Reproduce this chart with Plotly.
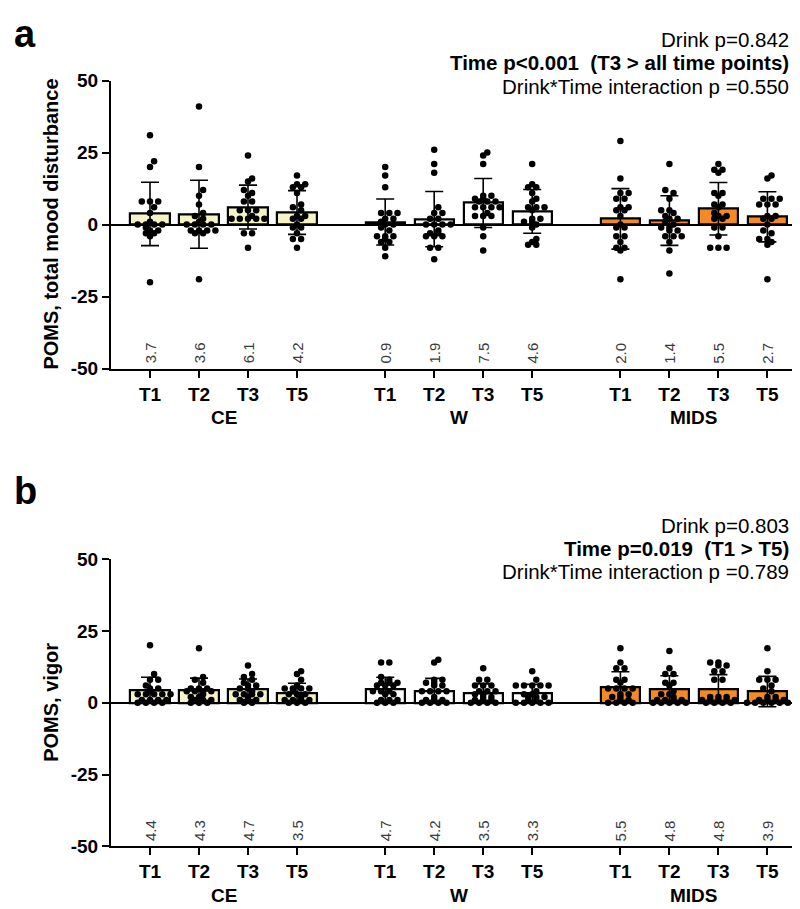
import plotly.graph_objects as go

# ---------------- data ----------------
groups = ["CE", "W", "MIDS"]
time_labels = ["T1", "T2", "T3", "T5"] * 3
y_tick_vals = [-50, -25, 0, 25, 50]
y_tick_text = ["-50", "-25", "0", "25", "50"]

# Panel a: POMS total mood disturbance
tmd_means = [3.7, 3.6, 6.1, 4.2, 0.9, 1.9, 7.5, 4.6, 2.0, 1.4, 5.5, 2.7]
tmd_sd = [11.0, 11.8, 7.6, 7.6, 8.0, 9.6, 8.5, 7.6, 10.5, 8.6, 9.1, 8.7]
tmd_ce_t1 = [31, 22, 20, 8, 8, 8, 6, 4, 1, 0, 0, 0, 0, -1, -2, -3, -3, -2, -4, -20]
tmd_ce_t2 = [41, 20, 12, 10, 7, 4, 3, 2, 1, 0, 0, 0, 0, -2, -2, -2, -2, -3, -3, -19]
tmd_ce_t3 = [24, 16, 15, 12, 11, 10, 8, 8, 5, 5, 5, 3, 2, 2, 2, 2, 2, -3, -3, -8]
tmd_ce_t5 = [17, 14, 14, 13, 13, 11, 7, 6, 5, 3, 3, 2, 2, 0, -1, -1, -3, -5, -5, -8]
tmd_w_t1 = [20, 17, 13, 4, 4, 4, 2, 2, 1, 0, 0, -1, -2, -4, -4, -4, -5, -6, -6, -8, -11]
tmd_w_t2 = [26, 21, 18, 6, 4, 4, 2, 2, 0, 0, 0, 0, -2, -3, -3, -4, -4, -4, -8, -8, -12]
tmd_w_t3 = [25, 24, 21, 10, 10, 9, 9, 8, 8, 8, 6, 6, 6, 6, 4, 3, 3, 3, -1, -4, -9]
tmd_w_t5 = [21, 14, 13, 13, 11, 9, 8, 6, 6, 6, 5, 2, 2, 1, 1, 0, -1, -5, -6, -7, -7]
tmd_mids_t1 = [29, 16, 11, 11, 9, 9, 6, 6, 5, 5, 3, 0, -1, -1, -4, -4, -6, -8, -8, -9, -19]
tmd_mids_t2 = [21, 12, 11, 9, 5, 5, 4, 3, 2, 2, 1, 0, -1, -1, -2, -2, -4, -4, -4, -6, -9, -17]
tmd_mids_t3 = [21, 19, 19, 18, 11, 11, 10, 7, 7, 6, 4, 3, 3, 2, 2, -1, -1, -4, -8, -8, -8]
tmd_mids_t5 = [17, 16, 9, 9, 9, 7, 7, 7, 3, 3, 2, 2, 0, -2, -3, -5, -5, -6, -7, -19]

# Panel b: POMS vigor
vig_means = [4.4, 4.3, 4.7, 3.5, 4.7, 4.2, 3.5, 3.3, 5.5, 4.8, 4.8, 3.9]
vig_sd = [4.5, 4.3, 3.6, 3.3, 4.2, 4.3, 3.1, 3.1, 5.3, 4.6, 5.0, 5.3]
vig_ce_t1 = [20, 10, 8, 8, 5, 5, 6, 3, 3, 3, 3, 3, 4, 1, 1, 1, 1, 0, 0, 0, 0]
vig_ce_t2 = [19, 9, 8, 7, 5, 5, 5, 4, 4, 4, 4, 3, 2, 2, 1, 1, 1, 0, 0, 0]
vig_ce_t3 = [13, 10, 9, 8, 7, 6, 6, 5, 5, 4, 3, 3, 3, 3, 2, 1, 1, 1, 0, 0]
vig_ce_t5 = [11, 10, 8, 6, 5, 5, 5, 5, 4, 3, 3, 3, 2, 1, 1, 1, 1, 0, 0, 0]
vig_w_t1 = [14, 14, 9, 8, 7, 7, 7, 6, 6, 6, 4, 4, 4, 3, 3, 1, 1, 1, 0, 0, 0]
vig_w_t2 = [15, 14, 8, 8, 7, 7, 6, 6, 4, 4, 4, 4, 2, 1, 1, 1, 0, 0, 0, 0]
vig_w_t3 = [12, 8, 8, 6, 6, 6, 4, 4, 4, 3, 3, 2, 2, 1, 1, 1, 0, 0, 0, 0]
vig_w_t5 = [11, 8, 6, 6, 6, 6, 6, 4, 3, 3, 2, 2, 2, 1, 1, 0, 0, 0, 0, 0]
vig_mids_t1 = [19, 14, 12, 12, 8, 8, 7, 5, 5, 5, 5, 3, 3, 2, 2, 1, 1, 0, 0, 0, 0]
vig_mids_t2 = [18, 12, 10, 10, 7, 7, 6, 4, 3, 3, 2, 1, 1, 1, 1, 0, 0, 0, 0, 0]
vig_mids_t3 = [14, 14, 13, 13, 11, 11, 8, 8, 2, 2, 2, 1, 1, 1, 1, 1, 0, 0, 0, 0]
vig_mids_t5 = [19, 11, 8, 8, 8, 6, 5, 4, 2, 2, 1, 1, 1, 1, 0, 0, 0, 0, 0, 0]

tmd_points = [tmd_ce_t1, tmd_ce_t2, tmd_ce_t3, tmd_ce_t5,
              tmd_w_t1, tmd_w_t2, tmd_w_t3, tmd_w_t5,
              tmd_mids_t1, tmd_mids_t2, tmd_mids_t3, tmd_mids_t5]
vig_points = [vig_ce_t1, vig_ce_t2, vig_ce_t3, vig_ce_t5,
              vig_w_t1, vig_w_t2, vig_w_t3, vig_w_t5,
              vig_mids_t1, vig_mids_t2, vig_mids_t3, vig_mids_t5]

stats_a = ["Drink p=0.842", "<b>Time p<0.001  (T3 > all time points)</b>",
           "Drink*Time interaction p =0.550"]
stats_b = ["Drink p=0.803", "<b>Time p=0.019  (T1 > T5)</b>",
           "Drink*Time interaction p =0.789"]

# ---------------- layout constants ----------------
FW, FH = 800, 909
FONT = "Arial, 'Liberation Sans', Helvetica, sans-serif"
positions = [0, 1, 2, 3, 4.8, 5.8, 6.8, 7.8, 9.6, 10.6, 11.6, 12.6]
group_centers = [1.5, 6.3, 11.1]
group_colors = ["#F6F3C4", "#FFFFFF", "#F28A26"]
bar_colors = [c for c in group_colors for _ in range(4)]
XPX = 49.0           # px per x unit
X_LEFT_PX, X_RIGHT_PX, X0_PX = 103, 797, 142
x_range = [(X_LEFT_PX - X0_PX) / XPX, (X_RIGHT_PX - X0_PX) / XPX]


def py(p):
    return 1 - p / FH


def row_layout(vals, ppy, s=8.2, d=6.5):
    """GraphPad-like scatter: equal values side by side in rows."""
    rows = {}
    for i, v in enumerate(vals):
        rows.setdefault(v, []).append(i)
    placed = []
    res = [0.0] * len(vals)
    for v in sorted(rows):
        idxs = rows[v]
        n = len(idxs)
        base = [(j - (n - 1) / 2) * s for j in range(n)]
        y = v * ppy
        best, best_cost = 0.0, None
        for sh in (0.0, s / 2, -s / 2):
            cost = 0.0
            for b in base:
                for (qx, qy) in placed:
                    dist2 = (b + sh - qx) ** 2 + (y - qy) ** 2
                    if dist2 < d * d:
                        cost += d * d - dist2
            if best_cost is None or cost < best_cost - 1e-9:
                best, best_cost = sh, cost
        for j, i in enumerate(idxs):
            xo = base[j] + best
            placed.append((xo, y))
            res[i] = xo / XPX
    return res


fig = go.Figure()

panels = [
    dict(means=tmd_means, sd=tmd_sd, pts=tmd_points, xa="x", ya="y",
         top=64, bot=359, title="POMS, total mood disturbance",
         stats=stats_a, letter="a", letter_y=16, stat_y=[22, 46, 70]),
    dict(means=vig_means, sd=vig_sd, pts=vig_points, xa="x2", ya="y2",
         top=554, bot=848, title="POMS, vigor",
         stats=stats_b, letter="b", letter_y=484, stat_y=[519, 543, 567]),
]

annotations = []
for k, P in enumerate(panels):
    ppy = (P["bot"] - P["top"]) / 100.0
    fig.add_trace(go.Bar(
        x=positions, y=P["means"], width=0.8,
        marker=dict(color=bar_colors, line=dict(color="black", width=2.2)),
        error_y=dict(type="data", array=P["sd"], visible=True,
                     color="black", thickness=1.6, width=9),
        xaxis=P["xa"], yaxis=P["ya"], showlegend=False, hoverinfo="skip"))
    xs, ys = [], []
    for pos, vals in zip(positions, P["pts"]):
        offs = row_layout(vals, ppy)
        xs += [pos + o for o in offs]
        ys += vals
    fig.add_trace(go.Scatter(
        x=xs, y=ys, mode="markers",
        marker=dict(color="black", size=6.5),
        xaxis=P["xa"], yaxis=P["ya"], showlegend=False, hoverinfo="skip"))

    xref = P["xa"]
    yref = P["ya"]
    # mean labels
    for pos, m in zip(positions, P["means"]):
        annotations.append(dict(
            x=pos, y=-49, xref=xref, yref=yref, text=f"{m:.1f}",
            textangle=-90, showarrow=False, xanchor="center", yanchor="bottom",
            font=dict(family=FONT, size=15, color="#3a3a3a")))
    # group labels
    for gc, g in zip(group_centers, groups):
        annotations.append(dict(
            x=gc, y=py(P["bot"] + 50), xref=xref, yref="paper", text=f"<b>{g}</b>",
            showarrow=False, xanchor="center", yanchor="middle",
            font=dict(family=FONT, size=19, color="black")))
    # y title
    annotations.append(dict(
        x=43 / FW, y=py((P["top"] + P["bot"]) / 2), xref="paper", yref="paper",
        text=f"<b>{P['title']}</b>", textangle=-90, showarrow=False,
        xanchor="center", yanchor="middle",
        font=dict(family=FONT, size=20, color="black")))
    # panel letter
    annotations.append(dict(
        x=4 / FW, y=py(P["letter_y"]), xref="paper", yref="paper",
        text=f"<b>{P['letter']}</b>", showarrow=False,
        xanchor="left", yanchor="middle",
        font=dict(family=FONT, size=38, color="black")))
    # stats text
    for s, sy in zip(P["stats"], P["stat_y"]):
        annotations.append(dict(
            x=783 / FW, y=py(sy), xref="paper", yref="paper", text=s,
            showarrow=False, xanchor="right", yanchor="middle",
            font=dict(family=FONT, size=20.5, color="black")))

xdom = [X_LEFT_PX / FW, X_RIGHT_PX / FW]
xaxis_common = dict(
    domain=xdom, range=x_range, tickmode="array", tickvals=positions,
    ticktext=time_labels, showline=True, linewidth=2, linecolor="black",
    ticks="outside", ticklen=7, tickwidth=2, tickcolor="black",
    showgrid=False, zeroline=False,
    tickfont=dict(family=FONT, size=19, color="black", weight="bold"))
yaxis_common = dict(
    range=[-50, 50], tickmode="array", tickvals=y_tick_vals, ticktext=y_tick_text,
    showline=True, linewidth=2, linecolor="black",
    ticks="outside", ticklen=7, tickwidth=2, tickcolor="black",
    showgrid=False, zeroline=True, zerolinewidth=2, zerolinecolor="black",
    tickfont=dict(family=FONT, size=19, color="black", weight="bold"))

fig.update_layout(
    width=FW, height=FH,
    margin=dict(l=0, r=0, t=0, b=0),
    paper_bgcolor="white", plot_bgcolor="white",
    bargap=0, barmode="overlay",
    xaxis=dict(anchor="y", **xaxis_common),
    yaxis=dict(anchor="x", domain=[py(panels[0]["bot"]), py(panels[0]["top"])], **yaxis_common),
    xaxis2=dict(anchor="y2", **xaxis_common),
    yaxis2=dict(anchor="x2", domain=[py(panels[1]["bot"]), py(panels[1]["top"])], **yaxis_common),
    annotations=annotations,
)

fig.write_html("out.html")
